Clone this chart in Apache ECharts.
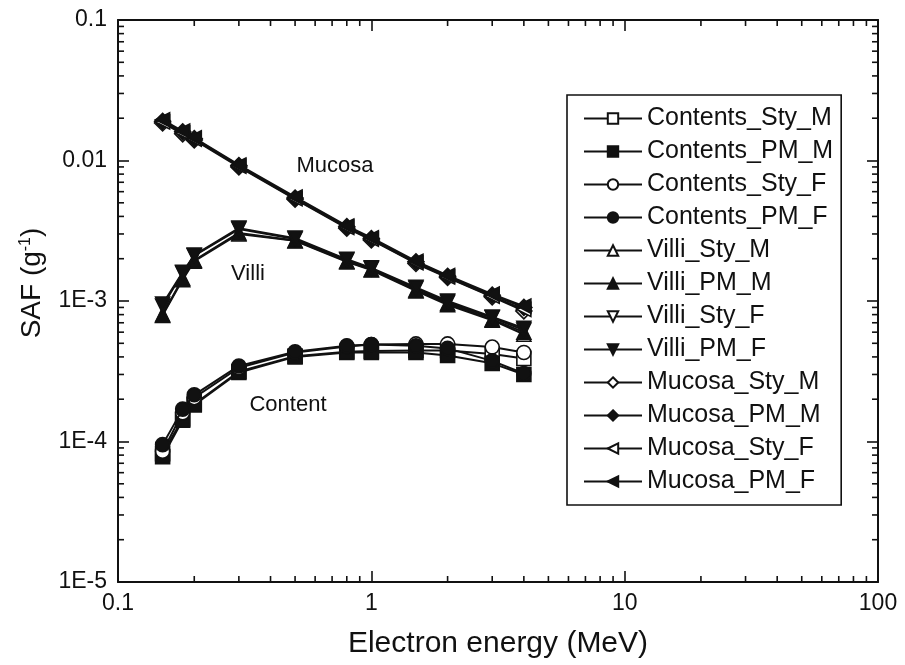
<!DOCTYPE html>
<html>
<head>
<meta charset="utf-8">
<script src="https://cdn.jsdelivr.net/npm/echarts@6/dist/echarts.min.js"></script>
<style>html,body{margin:0;padding:0;background:#fff}#c{width:905px;height:665px}</style>
</head>
<body>
<div id="c"></div>
<script>
// ---- data ----
const xValues = [0.15, 0.18, 0.2, 0.3, 0.5, 0.8, 1, 1.5, 2, 3, 4];

const contentsStyM = [8.2e-5, 1.45e-4, 1.85e-4, 3.15e-4, 4.05e-4, 4.35e-4, 4.4e-4, 4.45e-4, 4.45e-4, 4.2e-4, 3.9e-4];
const contentsPMM  = [7.8e-5, 1.42e-4, 1.82e-4, 3.1e-4, 4.0e-4, 4.3e-4, 4.3e-4, 4.3e-4, 4.1e-4, 3.6e-4, 3.0e-4];
const contentsStyF = [8.5e-5, 1.6e-4, 2.05e-4, 3.35e-4, 4.3e-4, 4.75e-4, 4.9e-4, 4.95e-4, 4.95e-4, 4.7e-4, 4.3e-4];
const contentsPMF  = [9.5e-5, 1.7e-4, 2.15e-4, 3.45e-4, 4.35e-4, 4.8e-4, 4.9e-4, 4.8e-4, 4.6e-4, 3.75e-4, 3.05e-4];

const villiStyM = [7.9e-4, 1.42e-3, 1.92e-3, 3.0e-3, 2.68e-3, 1.9e-3, 1.66e-3, 1.18e-3, 9.4e-4, 7.3e-4, 5.8e-4];
const villiPMM  = [8.0e-4, 1.45e-3, 1.95e-3, 3.05e-3, 2.7e-3, 1.92e-3, 1.68e-3, 1.2e-3, 9.6e-4, 7.4e-4, 6.0e-4];
const villiStyF = [9.2e-4, 1.58e-3, 2.1e-3, 3.25e-3, 2.76e-3, 1.96e-3, 1.7e-3, 1.23e-3, 9.8e-4, 7.6e-4, 6.2e-4];
const villiPMF  = [9.5e-4, 1.6e-3, 2.12e-3, 3.3e-3, 2.8e-3, 1.98e-3, 1.72e-3, 1.25e-3, 1.0e-3, 7.7e-4, 6.4e-4];

const mucosaStyM = [1.85e-2, 1.55e-2, 1.4e-2, 9.0e-3, 5.3e-3, 3.3e-3, 2.72e-3, 1.85e-3, 1.47e-3, 1.07e-3, 8.5e-4];
const mucosaPMM  = [1.9e-2, 1.6e-2, 1.43e-2, 9.2e-3, 5.4e-3, 3.38e-3, 2.78e-3, 1.9e-3, 1.5e-3, 1.1e-3, 9.0e-4];
const mucosaStyF = [1.88e-2, 1.57e-2, 1.42e-2, 9.1e-3, 5.35e-3, 3.34e-3, 2.75e-3, 1.87e-3, 1.48e-3, 1.08e-3, 8.7e-4];
const mucosaPMF  = [1.95e-2, 1.62e-2, 1.45e-2, 9.3e-3, 5.5e-3, 3.42e-3, 2.82e-3, 1.92e-3, 1.52e-3, 1.12e-3, 9.2e-4];

const seriesNames = ['Contents_Sty_M','Contents_PM_M','Contents_Sty_F','Contents_PM_F',
  'Villi_Sty_M','Villi_PM_M','Villi_Sty_F','Villi_PM_F',
  'Mucosa_Sty_M','Mucosa_PM_M','Mucosa_Sty_F','Mucosa_PM_F'];
const seriesValues = [contentsStyM, contentsPMM, contentsStyF, contentsPMF,
  villiStyM, villiPMM, villiStyF, villiPMF,
  mucosaStyM, mucosaPMM, mucosaStyF, mucosaPMF];

const xTickLabels = ['0.1', '1', '10', '100'];
const yTickLabels = ['1E-5', '1E-4', '1E-3', '0.01', '0.1'];
const xMinorTicks = [0.2,0.3,0.4,0.5,0.6,0.7,0.8,0.9, 2,3,4,5,6,7,8,9, 20,30,40,50,60,70,80,90];
const yMinorTicks = [2e-5,3e-5,4e-5,5e-5,6e-5,7e-5,8e-5,9e-5, 2e-4,3e-4,4e-4,5e-4,6e-4,7e-4,8e-4,9e-4,
  2e-3,3e-3,4e-3,5e-3,6e-3,7e-3,8e-3,9e-3, 0.02,0.03,0.04,0.05,0.06,0.07,0.08,0.09];
const annotations = [['Mucosa', 335, 166], ['Villi', 248, 274], ['Content', 288, 405]];

// ---- styles ----
const FONT = '"Liberation Sans", Arial, sans-serif';
const X_MIN = 0.1, X_MAX = 100, Y_MIN = 1e-5, Y_MAX = 0.1;
const symbols = [
  ['rect', false], ['rect', true], ['circle', false], ['circle', true],
  ['triangle', false], ['triangle', true],
  ['path://M0,0L10,0L5,8.66Z', false], ['path://M0,0L10,0L5,8.66Z', true],
  ['diamond', false], ['diamond', true],
  ['path://M0,5L8.66,0L8.66,10Z', false], ['path://M0,5L8.66,0L8.66,10Z', true]
];

const series = seriesNames.map((name, i) => ({
  name: name,
  type: 'line',
  xAxisIndex: 0, yAxisIndex: 0,
  data: xValues.map((x, j) => [x, seriesValues[i][j]]),
  symbol: symbols[i][0],
  symbolSize: (symbols[i][0] === 'diamond') ? 16 : 14,
  lineStyle: { color: '#111', width: 2 },
  itemStyle: { color: symbols[i][1] ? '#111' : '#fff', borderColor: '#111', borderWidth: 1.6 },
  z: 3 + i
}));

function tickRenderer(isX) {
  return function (params, api) {
    const v = api.value(isX ? 0 : 1);
    const L = 6;
    const st = { stroke: '#111', lineWidth: 1.6 };
    if (isX) {
      const pb = api.coord([v, Y_MIN]);
      const pt = api.coord([v, Y_MAX]);
      return { type: 'group', children: [
        { type: 'line', shape: { x1: pb[0], y1: pb[1], x2: pb[0], y2: pb[1] - L }, style: st },
        { type: 'line', shape: { x1: pt[0], y1: pt[1], x2: pt[0], y2: pt[1] + L }, style: st }
      ]};
    } else {
      const pl = api.coord([X_MIN, v]);
      const pr = api.coord([X_MAX, v]);
      return { type: 'group', children: [
        { type: 'line', shape: { x1: pl[0], y1: pl[1], x2: pl[0] + L, y2: pl[1] }, style: st },
        { type: 'line', shape: { x1: pr[0], y1: pr[1], x2: pr[0] - L, y2: pr[1] }, style: st }
      ]};
    }
  };
}
series.push({
  type: 'custom', silent: true, clip: false, xAxisIndex: 0, yAxisIndex: 0,
  data: xMinorTicks.map(v => [v, Y_MIN]), renderItem: tickRenderer(true), z: 1
});
series.push({
  type: 'custom', silent: true, clip: false, xAxisIndex: 0, yAxisIndex: 0,
  data: yMinorTicks.map(v => [X_MIN, v]), renderItem: tickRenderer(false), z: 1
});

const axisLine = { show: true, onZero: false, lineStyle: { color: '#111', width: 2 } };
const majorTick = { show: true, inside: true, length: 11, lineStyle: { color: '#111', width: 1.6 } };

const option = {
  backgroundColor: '#fff',
  animation: false,
  grid: { left: 118, right: 27, top: 20, bottom: 83 },
  xAxis: [{
    type: 'log', logBase: 10, min: X_MIN, max: X_MAX, position: 'bottom',
    name: 'Electron energy (MeV)', nameLocation: 'middle', nameGap: 47,
    nameTextStyle: { fontFamily: FONT, fontSize: 30, color: '#111' },
    axisLine: axisLine, axisTick: majorTick, splitLine: { show: false },
    axisLabel: { fontFamily: FONT, fontSize: 23, color: '#111', margin: 10,
      formatter: v => xTickLabels[Math.round(Math.log10(v)) + 1] }
  }, {
    type: 'log', logBase: 10, min: X_MIN, max: X_MAX, position: 'top',
    axisLine: axisLine, axisTick: majorTick, splitLine: { show: false }, axisLabel: { show: false }
  }],
  yAxis: [{
    type: 'log', logBase: 10, min: Y_MIN, max: Y_MAX, position: 'left',
    name: 'SAF (g{sup|-1})', nameLocation: 'middle', nameGap: 72,
    nameTextStyle: { fontFamily: FONT, fontSize: 28, color: '#111', padding: [0, 0, 0, 36],
      rich: { sup: { fontFamily: FONT, fontSize: 16, color: '#111', verticalAlign: 'top', padding: [0,0,12,0] } } },
    axisLine: axisLine, axisTick: majorTick, splitLine: { show: false },
    axisLabel: { fontFamily: FONT, fontSize: 23, color: '#111', margin: 11,
      formatter: v => yTickLabels[Math.round(Math.log10(v)) + 5] }
  }, {
    type: 'log', logBase: 10, min: Y_MIN, max: Y_MAX, position: 'right',
    axisLine: axisLine, axisTick: majorTick, splitLine: { show: false }, axisLabel: { show: false }
  }],
  legend: {
    data: seriesNames,
    orient: 'vertical',
    left: 567, top: 95,
    padding: [11, 8, 11, 16],
    itemWidth: 58, itemHeight: 13, itemGap: 8,
    borderColor: '#111', borderWidth: 1.6,
    textStyle: { fontFamily: FONT, fontSize: 25, color: '#111' },
    selectedMode: false
  },
  graphic: annotations.map(a => ({
    type: 'text', x: a[1], y: a[2],
    style: { text: a[0], font: '22px ' + FONT, fill: '#111', align: 'center', verticalAlign: 'middle' }
  })),
  series: series
};

const chart = echarts.init(document.getElementById('c'), null, { renderer: 'canvas' });
chart.setOption(option);
</script>
</body>
</html>
